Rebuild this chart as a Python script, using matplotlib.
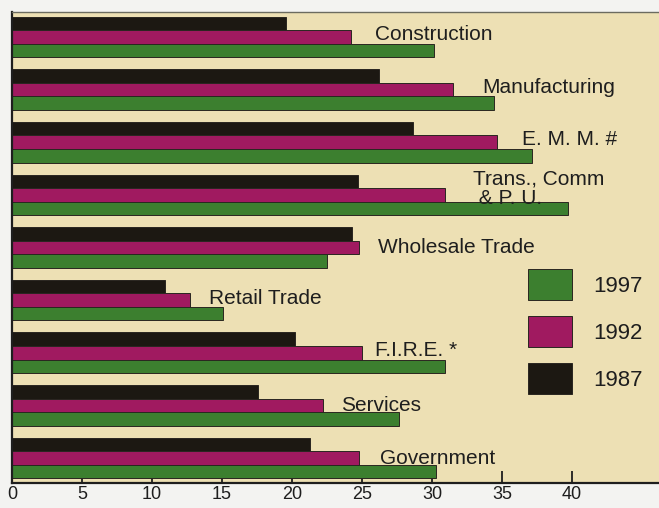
import matplotlib
matplotlib.use("Agg")
import matplotlib.pyplot as plt
import numpy as np
from matplotlib.patches import Patch

# sectors, top to bottom
sectors = ["Construction", "Manufacturing", "E. M. M. #", "Trans., Comm\n & P. U.",
           "Wholesale Trade", "Retail Trade", "F.I.R.E. *", "Services", "Government"]
vals_1987 = [19.6, 26.2, 28.6, 24.7, 24.3, 10.9, 20.2, 17.6, 21.3]
vals_1992 = [24.2, 31.5, 34.6, 30.9, 24.8, 12.7, 25.0, 22.2, 24.8]
vals_1997 = [30.1, 34.4, 37.1, 39.7, 22.5, 15.1, 30.9, 27.6, 30.3]
xticks = [0, 5, 10, 15, 20, 25, 30, 35, 40]

# label placement: offset from the 1992 bar end, and vertical nudge
lab_dx = [1.7, 2.1, 1.8, 2.0, 1.3, 1.4, 0.9, 1.3, 1.5]
lab_dy = [-0.04, -0.04, -0.06, -0.12, 0.0, -0.04, -0.05, 0.0, 0.0]

c87 = "#1c1812"
c92 = "#a01a60"
c97 = "#3c7f2f"
beige = "#ede0b4"

plt.rcParams["font.family"] = ["Liberation Sans", "DejaVu Sans"]

fig = plt.figure(figsize=(6.59, 5.08), dpi=100, facecolor="#f3f3f1")
ax = fig.add_axes([12 / 659, 1 - 483 / 508, 647 / 659, 471 / 508])
ax.set_facecolor(beige)

n = len(sectors)
y = np.arange(n)
h = 0.257
edge = dict(edgecolor="#2a2620", linewidth=0.7)
ax.barh(y - h, vals_1987, height=h, color=c87, **edge)
ax.barh(y, vals_1992, height=h, color=c92, **edge)
ax.barh(y + h, vals_1997, height=h, color=c97, **edge)

for i in range(n):
    ax.text(vals_1992[i] + lab_dx[i], y[i] + lab_dy[i], sectors[i], fontsize=15,
            color="#1e1e1e", ha="left", va="center", linespacing=1.0)

ax.set_ylim(n - 0.525, -0.475)
ax.set_xlim(0, 46.2)
ax.set_yticks([])
ax.set_xticks(xticks)
ax.set_xticklabels([str(t) for t in xticks], fontsize=13, color="#1e1e1e")
ax.tick_params(axis="x", direction="in", length=8.5, width=1.3, color="#1e1e1e", pad=2.5)
ax.set_axisbelow(True)

ax.spines["right"].set_visible(False)
ax.spines["top"].set_color("#6b6b60")
ax.spines["top"].set_linewidth(1.0)
ax.spines["left"].set_color("#1e1e1e")
ax.spines["left"].set_linewidth(1.6)
ax.spines["bottom"].set_color("#1e1e1e")
ax.spines["bottom"].set_linewidth(1.6)

handles = [Patch(facecolor=c97, edgecolor="#2a2620", linewidth=0.7, label="1997"),
           Patch(facecolor=c92, edgecolor="#2a2620", linewidth=0.7, label="1992"),
           Patch(facecolor=c87, edgecolor="#2a2620", linewidth=0.7, label="1987")]
ax.legend(handles=handles, loc="upper left", bbox_to_anchor=(516 / 647, 214 / 471),
          frameon=False, fontsize=16, handlelength=1.98, handleheight=1.77,
          labelspacing=0.72, handletextpad=0.95, borderpad=0, borderaxespad=0,
          labelcolor="#1e1e1e")

fig.savefig("out.png", dpi=100, facecolor=fig.get_facecolor())
